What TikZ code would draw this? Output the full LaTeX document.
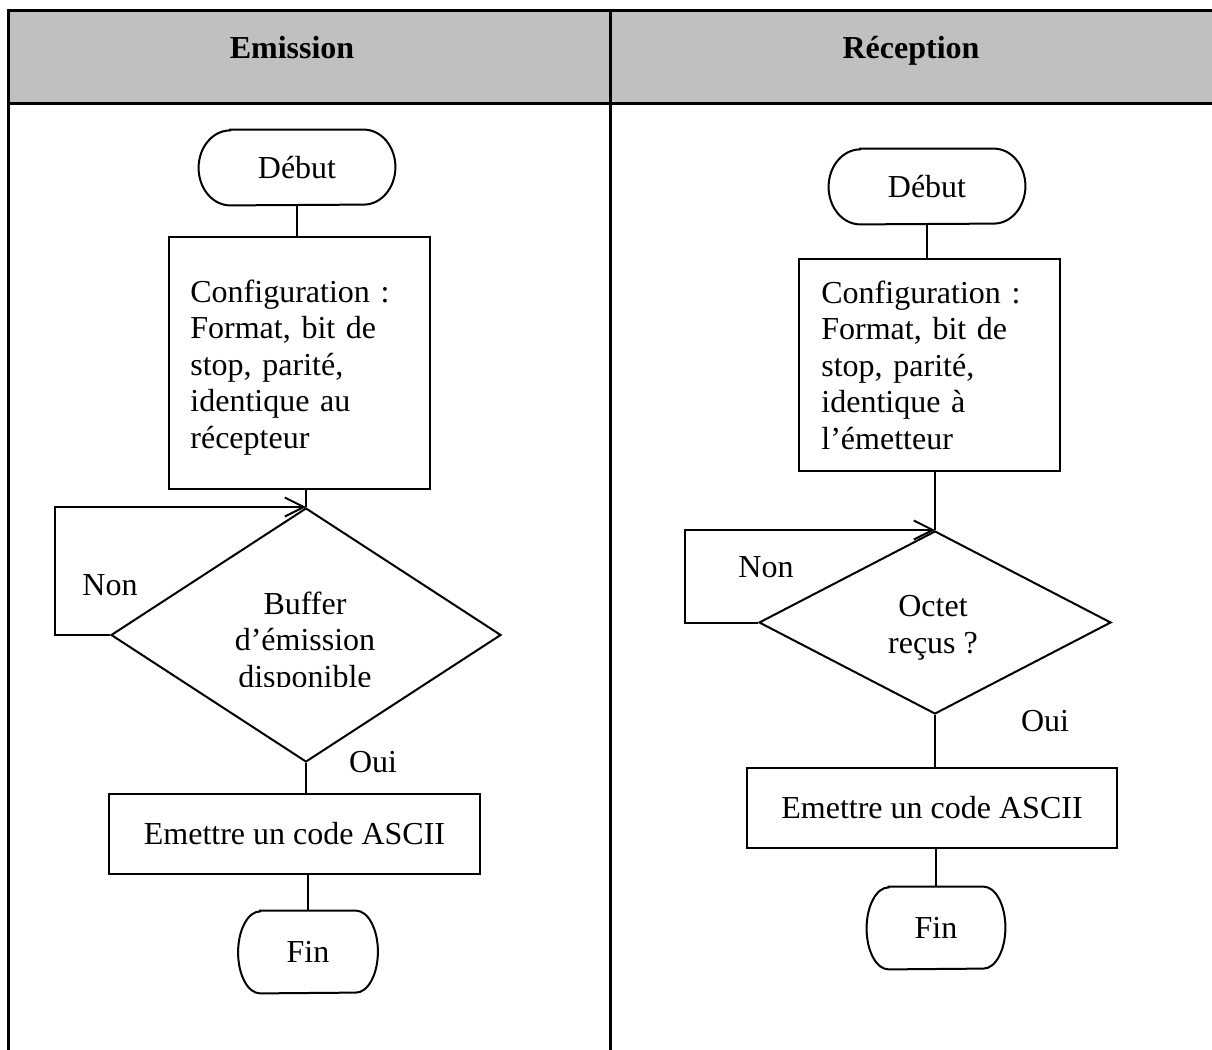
\documentclass[tikz,border=0pt]{standalone}
\usepackage{fontspec}
\setmainfont{Liberation Serif}
\usetikzlibrary{shapes.geometric,arrows.meta}
\definecolor{headgray}{RGB}{192,192,192}
\frenchspacing

% outline of a flowchart terminator around node #1 (corner radii #2, #3)
\newcommand\termoutline[3]{%
  \draw[flow] ([xshift=#2]#1.north west) -- ([xshift=-#2]#1.north east)
    arc[start angle=90,end angle=-90,x radius=#2,y radius=#3]
    -- ([xshift=#2]#1.south west)
    arc[start angle=270,end angle=90,x radius=#2,y radius=#3] -- cycle;}

\begin{document}
\begin{tikzpicture}[x=0.5pt,y=-0.5pt,
  font=\fontsize{16pt}{18.3pt}\selectfont,
  flow/.style={line width=1pt},
  box/.style={draw, line width=1pt, rectangle, inner sep=0pt},
  term/.style={inner sep=0pt},
  decision/.style={diamond, draw, line width=1pt, inner sep=0pt},
  lbl/.style={inner sep=0pt},
  cfg/.style={inner sep=0pt, align=left, text width=130pt, anchor=base west},
  loop/.style={line width=1pt, -{Straight Barb[length=9.5pt,width=9.5pt]}},
  grid/.style={line width=1.5pt},
  head/.style={inner sep=0pt, anchor=base, font=\fontsize{16pt}{18pt}\selectfont\bfseries}]
\useasboundingbox (0,0) rectangle (1212,1050);

% table: grey header row and column rules
\fill[headgray] (8,10) rectangle (1220,103);
\draw[grid] (1220,10) -- (8,10) -- (8,1060);
\draw[grid] (8,103) -- (1220,103);
\draw[grid] (610,10) -- (610,1060);
\node[head] (h1) at (292,58) {Emission};
\node[head] (h2) at (911,58) {Réception};

% ---- emission ----
\node[term, minimum width=98pt, minimum height=37.5pt] (d1) at (297,167.5) {Début};
\termoutline{d1}{15.8pt}{18.75pt}
\node[box, minimum width=130.5pt, minimum height=126pt] (c1) at (299.5,363) {};
\node[cfg] (t1) at (190,302) {Configuration :\\ Format, bit de\\ stop, parité,\\ identique au\\ récepteur};
\node[decision, minimum width=195pt, minimum height=127pt] (q1) at (306,635) {};
\begin{scope}
  \clip (0,0) rectangle (1212,686);
  \node[lbl, align=center] (t2) at (305,643) {Buffer\\ d’émission\\ disponible};
\end{scope}
\node[lbl] (n1) at (110,585) {Non};
\node[lbl] (o1) at (373,762) {Oui};
\node[box, minimum width=185.5pt, minimum height=40pt] (r1) at (294.5,834) {Emettre un code ASCII};
\node[term, minimum width=69.5pt, minimum height=41pt] (f1) at (308,952) {Fin};
\termoutline{f1}{11pt}{20.5pt}

\coordinate (k1) at (55,0);
\draw[flow] (d1.south) -- (d1.south |- c1.north);
\draw[flow] (q1.north |- c1.south) -- (q1.north);
\draw[loop] (q1.west) -- (q1.west -| k1) |- (q1.north);
\draw[flow] (q1.south) -- (q1.south |- r1.north);
\draw[flow] (f1.north |- r1.south) -- (f1.north);

% ---- reception ----
\node[term, minimum width=98pt, minimum height=37.5pt] (d2) at (927,186.5) {Début};
\termoutline{d2}{15.8pt}{18.75pt}
\node[box, minimum width=130.5pt, minimum height=106pt] (c2) at (929.5,365) {};
\node[cfg] (t3) at (821,303) {Configuration :\\ Format, bit de\\ stop, parité,\\ identique à\\ l’émetteur};
\node[decision, minimum width=176pt, minimum height=91.5pt] (q2) at (935,622.5) {};
\node[lbl, align=center] (t4) at (933,628) {Octet\\ reçus ?};
\node[lbl] (n2) at (766,567) {Non};
\node[lbl] (o2) at (1045,721) {Oui};
\node[box, minimum width=185pt, minimum height=40pt] (r2) at (932,808) {Emettre un code ASCII};
\node[term, minimum width=69pt, minimum height=41pt] (f2) at (936,928) {Fin};
\termoutline{f2}{11pt}{20.5pt}

\coordinate (k2) at (685,0);
\draw[flow] (d2.south) -- (d2.south |- c2.north);
\draw[flow] (q2.north |- c2.south) -- (q2.north);
\draw[loop] (q2.west) -- (q2.west -| k2) |- (q2.north);
\draw[flow] (q2.south) -- (q2.south |- r2.north);
\draw[flow] (f2.north |- r2.south) -- (f2.north);
\end{tikzpicture}
\end{document}
